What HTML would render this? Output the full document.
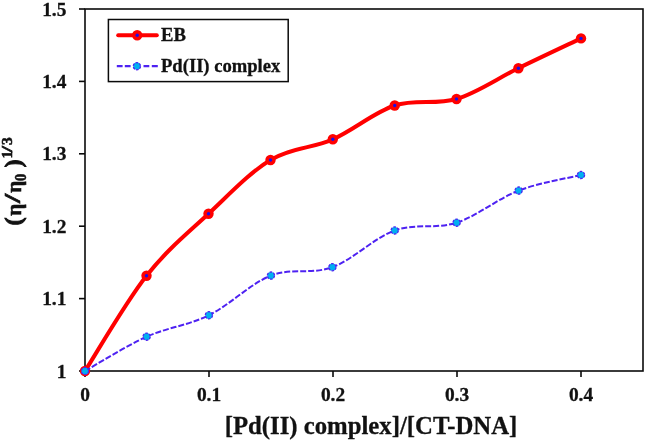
<!DOCTYPE html>
<html><head><meta charset="utf-8"><title>Viscosity plot</title>
<style>
html,body{margin:0;padding:0;background:#fff;}
svg{display:block}
text{font-family:"Liberation Serif","Times New Roman",serif;font-weight:bold;fill:#111;stroke:#111;stroke-width:0.3px}
.yt text{stroke-width:0.6px}
</style></head><body>
<svg width="645" height="441" viewBox="0 0 645 441">
<rect width="645" height="441" fill="#fff"/>

<g stroke="#0a0a0a" stroke-width="1.6" fill="none">
<rect x="85" y="9" width="558" height="362"/>
<line x1="79" y1="371.00" x2="85" y2="371.00"/>
<line x1="79" y1="298.60" x2="85" y2="298.60"/>
<line x1="79" y1="226.20" x2="85" y2="226.20"/>
<line x1="79" y1="153.80" x2="85" y2="153.80"/>
<line x1="79" y1="81.40" x2="85" y2="81.40"/>
<line x1="79" y1="9.00" x2="85" y2="9.00"/>
<line x1="85.00" y1="371" x2="85.00" y2="377"/>
<line x1="209.00" y1="371" x2="209.00" y2="377"/>
<line x1="333.00" y1="371" x2="333.00" y2="377"/>
<line x1="457.00" y1="371" x2="457.00" y2="377"/>
<line x1="581.00" y1="371" x2="581.00" y2="377"/>
</g>
<g font-size="19.4" text-anchor="end">
<text x="66.4" y="377.50">1</text>
<text x="66.4" y="305.10">1.1</text>
<text x="66.4" y="232.70">1.2</text>
<text x="66.4" y="160.30">1.3</text>
<text x="66.4" y="87.90">1.4</text>
<text x="66.4" y="15.50">1.5</text>
</g>
<g font-size="19.4" text-anchor="middle">
<text x="85.00" y="401.2">0</text>
<text x="209.00" y="401.2">0.1</text>
<text x="333.00" y="401.2">0.2</text>
<text x="457.00" y="401.2">0.3</text>
<text x="581.00" y="401.2">0.4</text>
</g>
<text x="371" y="434.3" font-size="24.75" text-anchor="middle">[Pd(II) complex]/[CT-DNA]</text>
<g class="yt" transform="translate(21 225.3) rotate(-90)">
<text x="0" y="0" font-size="23" style="stroke-width:1px">(</text>
<text x="9.6" y="0" font-size="21">η</text>
<text transform="translate(22.2 -1.2) scale(1.45 1)" font-size="23">/</text>
<text x="32.5" y="0" font-size="21">η</text>
<text transform="translate(44.4 4.6) scale(0.85 1)" font-size="17">0</text>
<text x="58" y="0" font-size="23" style="stroke-width:1px">)</text>
<text x="66.8" y="-8.8" font-size="15.5">1</text>
<text transform="translate(73 -8.8) scale(1.45 1)" font-size="15.5">/</text>
<text x="80.2" y="-8.8" font-size="15.5">3</text>
</g>
<path d="M85.00 371.00 C95.25 355.13 125.92 302.00 146.50 275.80 C167.08 249.60 187.83 233.10 208.50 213.80 C229.17 194.50 249.78 172.42 270.50 160.00 C291.22 147.58 312.10 148.38 332.80 139.30 C353.50 130.22 374.08 112.22 394.70 105.50 C415.32 98.78 435.88 105.22 456.50 99.00 C477.12 92.78 497.65 78.30 518.40 68.20 C539.15 58.10 570.57 43.37 581.00 38.40" fill="none" stroke="#ff0000" stroke-width="4" stroke-linecap="round" stroke-linejoin="round"/>
<circle cx="85.00" cy="371.00" r="5.2" fill="#ff0000"/>
<circle cx="85.00" cy="371.00" r="1.7" fill="#1a10e8"/>
<circle cx="146.50" cy="275.80" r="5.2" fill="#ff0000"/>
<circle cx="146.50" cy="275.80" r="1.7" fill="#1a10e8"/>
<circle cx="208.50" cy="213.80" r="5.2" fill="#ff0000"/>
<circle cx="208.50" cy="213.80" r="1.7" fill="#1a10e8"/>
<circle cx="270.50" cy="160.00" r="5.2" fill="#ff0000"/>
<circle cx="270.50" cy="160.00" r="1.7" fill="#1a10e8"/>
<circle cx="332.80" cy="139.30" r="5.2" fill="#ff0000"/>
<circle cx="332.80" cy="139.30" r="1.7" fill="#1a10e8"/>
<circle cx="394.70" cy="105.50" r="5.2" fill="#ff0000"/>
<circle cx="394.70" cy="105.50" r="1.7" fill="#1a10e8"/>
<circle cx="456.50" cy="99.00" r="5.2" fill="#ff0000"/>
<circle cx="456.50" cy="99.00" r="1.7" fill="#1a10e8"/>
<circle cx="518.40" cy="68.20" r="5.2" fill="#ff0000"/>
<circle cx="518.40" cy="68.20" r="1.7" fill="#1a10e8"/>
<circle cx="581.00" cy="38.40" r="5.2" fill="#ff0000"/>
<circle cx="581.00" cy="38.40" r="1.7" fill="#1a10e8"/>
<path d="M85.00 371.00 C95.27 365.28 125.95 345.98 146.60 336.70 C167.25 327.42 188.18 325.48 208.90 315.30 C229.62 305.12 250.32 283.62 270.90 275.60 C291.48 267.58 311.77 274.72 332.40 267.20 C353.03 259.68 374.00 237.92 394.70 230.50 C415.40 223.08 435.95 229.35 456.60 222.70 C477.25 216.05 497.87 198.55 518.60 190.60 C539.33 182.65 570.60 177.60 581.00 175.00" fill="none" stroke="#4e22f2" stroke-width="2" stroke-dasharray="6 2"/>
<circle cx="85.00" cy="371.00" r="3.6" fill="#00b0f0" stroke="#4e22f2" stroke-width="1.3" stroke-dasharray="2.6 1.2"/>
<circle cx="146.60" cy="336.70" r="3.6" fill="#00b0f0" stroke="#4e22f2" stroke-width="1.3" stroke-dasharray="2.6 1.2"/>
<circle cx="208.90" cy="315.30" r="3.6" fill="#00b0f0" stroke="#4e22f2" stroke-width="1.3" stroke-dasharray="2.6 1.2"/>
<circle cx="270.90" cy="275.60" r="3.6" fill="#00b0f0" stroke="#4e22f2" stroke-width="1.3" stroke-dasharray="2.6 1.2"/>
<circle cx="332.40" cy="267.20" r="3.6" fill="#00b0f0" stroke="#4e22f2" stroke-width="1.3" stroke-dasharray="2.6 1.2"/>
<circle cx="394.70" cy="230.50" r="3.6" fill="#00b0f0" stroke="#4e22f2" stroke-width="1.3" stroke-dasharray="2.6 1.2"/>
<circle cx="456.60" cy="222.70" r="3.6" fill="#00b0f0" stroke="#4e22f2" stroke-width="1.3" stroke-dasharray="2.6 1.2"/>
<circle cx="518.60" cy="190.60" r="3.6" fill="#00b0f0" stroke="#4e22f2" stroke-width="1.3" stroke-dasharray="2.6 1.2"/>
<circle cx="581.00" cy="175.00" r="3.6" fill="#00b0f0" stroke="#4e22f2" stroke-width="1.3" stroke-dasharray="2.6 1.2"/>
<rect x="108.4" y="19.5" width="179.8" height="62.1" fill="#fff" stroke="#0a0a0a" stroke-width="1.5"/>
<line x1="118.2" y1="35.3" x2="156.8" y2="35.3" stroke="#ff0000" stroke-width="4" stroke-linecap="round"/>
<circle cx="137.2" cy="35.3" r="5.2" fill="#ff0000"/><circle cx="137.2" cy="35.3" r="1.7" fill="#1a10e8"/>
<path d="M116.8 66.2h5.8M124.8 66.2h5.8M143.5 66.2h5.8M151.8 66.2h6" fill="none" stroke="#4e22f2" stroke-width="2.2"/>
<circle cx="136.9" cy="66.2" r="3.6" fill="#00b0f0" stroke="#4e22f2" stroke-width="1.3" stroke-dasharray="2.6 1.2"/>
<text x="161" y="40.8" font-size="18.7">EB</text>
<text x="161" y="72.3" font-size="18.6">Pd(II) complex</text>
</svg></body></html>
